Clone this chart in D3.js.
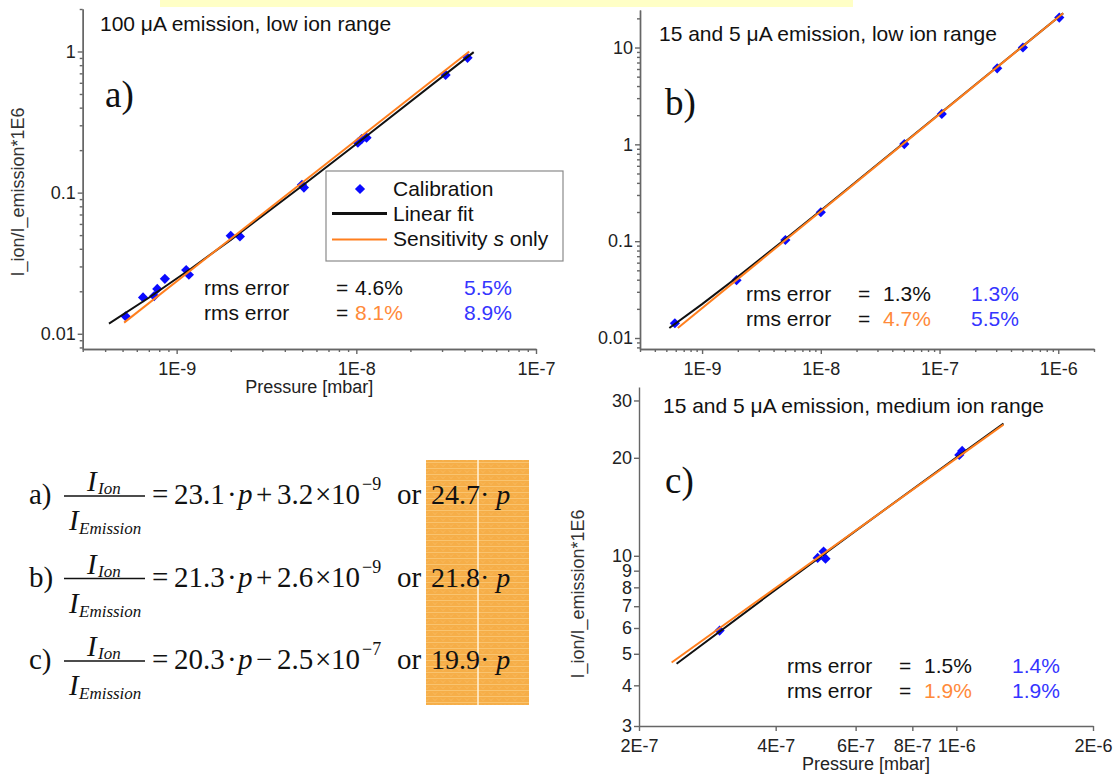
<!DOCTYPE html>
<html>
<head>
<meta charset="utf-8">
<script src="https://cdn.jsdelivr.net/npm/d3@7"></script>
<style>
  body { margin: 0; background: #fff; }
  svg { font-family: "Liberation Sans", Arial, sans-serif; }
  .axis path, .axis line { stroke: #666; stroke-width: 1.4; }
  .axis text { font-size: 18px; fill: #222; font-family: "Liberation Sans", Arial, sans-serif; }
  .serif { font-family: "Liberation Serif", "Times New Roman", serif; }
</style>
</head>
<body>
<svg id="chart" width="1120" height="781"></svg>
<script>
// ---- panel a) 100 uA emission, low ion range
const pressureA = [5.2e-10, 6.5e-10, 7.5e-10, 7.8e-10, 8.6e-10, 1.13e-9, 1.17e-9, 2.0e-9, 2.25e-9, 4.98e-9, 5.11e-9, 1.02e-8, 1.07e-8, 1.14e-8, 3.14e-8, 4.16e-8];
const ratioA    = [0.0133, 0.0181, 0.0185, 0.0208, 0.0245, 0.0283, 0.0262, 0.0494, 0.0489, 0.1135, 0.1086, 0.226, 0.239, 0.245, 0.682, 0.902];
const fitA_p  = [4.2e-10, 7e-10, 1.2e-9, 2e-9, 5e-9, 1e-8, 4.5e-8];
const fitA_v  = [0.0118, 0.0180, 0.0289, 0.0463, 0.112, 0.221, 0.99];
const sensA_p = [5.1e-10, 4.25e-8];
const sensA_v = [0.0120, 1.0];

// ---- panel b) 15 and 5 uA emission, low ion range
const pressureB = [5.9e-10, 1.95e-9, 5.03e-9, 1.0e-8, 5.05e-8, 1.045e-7, 3.06e-7, 5.04e-7, 1.02e-6];
const ratioB    = [0.0142, 0.0396, 0.1028, 0.199, 1.007, 2.06, 6.1, 10.0, 20.4];
const fitB_p  = [5.3e-10, 1e-9, 2e-9, 5e-9, 1e-8, 1.1e-6];
const fitB_v  = [0.0127, 0.0224, 0.0429, 0.1045, 0.207, 22.6];
const sensB_p = [6.25e-10, 1.1e-6];
const sensB_v = [0.0127, 22.6];

// ---- panel c) 15 and 5 uA emission, medium ion range
const pressureC = [3.01e-7, 4.95e-7, 5.1e-7, 5.15e-7, 1.015e-6, 1.03e-6];
const ratioC    = [5.89, 9.85, 10.3, 9.8, 20.4, 21.0];
const fitC_p  = [2.42e-7, 4e-7, 6e-7, 1e-6, 1.27e-6];
const fitC_v  = [4.66, 7.87, 11.93, 20.05, 25.5];
const sensC_p = [2.36e-7, 1.27e-6];
const sensC_v = [4.70, 25.3];

// tick labels
const ticksA_x = [1e-9, 1e-8, 1e-7],        labelsA_x = ['1E-9', '1E-8', '1E-7'];
const ticksA_y = [0.01, 0.1, 1],            labelsA_y = ['0.01', '0.1', '1'];
const ticksB_x = [1e-9, 1e-8, 1e-7, 1e-6],  labelsB_x = ['1E-9', '1E-8', '1E-7', '1E-6'];
const ticksB_y = [0.01, 0.1, 1, 10],        labelsB_y = ['0.01', '0.1', '1', '10'];
const ticksC_x = [2e-7, 4e-7, 6e-7, 8e-7, 1e-6, 2e-6], labelsC_x = ['2E-7', '4E-7', '6E-7', '8E-7', '1E-6', '2E-6'];
const ticksC_y = [3, 4, 5, 6, 7, 8, 9, 10, 20, 30],  labelsC_y = ['3', '4', '5', '6', '7', '8', '9', '10', '20', '30'];

// rms errors: linear fit / sensitivity only, black-orange vs blue column
const rmsLin     = ['4.6%', '1.3%', '1.5%'];
const rmsLinB    = ['5.5%', '1.3%', '1.4%'];
const rmsSens    = ['8.1%', '4.7%', '1.9%'];
const rmsSensB   = ['8.9%', '5.5%', '1.9%'];

// equations
const eqLabels = ['a)', 'b)', 'c)'];
const eqSlope  = ['23.1', '21.3', '20.3'];
const eqSign   = ['+', '+', '\u2212'];
const eqOffset = ['3.2', '2.6', '2.5'];
const eqExp    = ['\u22129', '\u22129', '\u22127'];
const eqSens   = ['24.7', '21.8', '19.9'];

const BLUE = '#0a0aff', BLUE_TXT = '#3535ff', ORANGE = '#ff7f1e', ORANGE_TXT = '#ff8a3a';

const svg = d3.select('#chart');

// texture for the highlighted box
const defs = svg.append('defs');
const pat = defs.append('pattern').attr('id', 'tex').attr('width', 8).attr('height', 6)
  .attr('patternUnits', 'userSpaceOnUse');
pat.append('rect').attr('width', 8).attr('height', 6).attr('fill', '#f6ae48');
pat.append('path').attr('d', 'M0 0.5H8').attr('stroke', '#f9c470').attr('stroke-width', 1);
pat.append('path').attr('d', 'M1 2.5l2 2l2 -2').attr('stroke', '#f8bd62').attr('fill', 'none').attr('stroke-width', 0.8);

// yellow banner cut off at the top
svg.append('rect').attr('x', 160).attr('y', 0).attr('width', 693).attr('height', 7).attr('fill', '#ffffc6');

function txt(x, y, s, opt = {}) {
  return svg.append('text').attr('x', x).attr('y', y)
    .attr('font-size', opt.size || 20)
    .attr('fill', opt.fill || '#111')
    .attr('font-style', opt.italic ? 'italic' : null)
    .attr('class', opt.serif ? 'serif' : null)
    .attr('text-anchor', opt.anchor || 'start')
    .text(s);
}

function minorTicks(domain) {
  let out = [];
  const lo = Math.floor(Math.log10(domain[0])), hi = Math.ceil(Math.log10(domain[1]));
  for (let e = lo; e <= hi; e++) {
    for (let m = 2; m <= 9; m++) {
      const v = m * Math.pow(10, e);
      if (v >= domain[0] * 0.999 && v <= domain[1] * 1.001) out.push(v);
    }
  }
  return out;
}

class LogPanel {
  constructor(_config, _data) {
    this.config = _config;
    this.data = _data;
    this.initVis();
  }

  initVis() {
    let vis = this, c = vis.config;
    vis.x = d3.scaleLog().domain(c.xDomain).range([c.left, c.right]);
    vis.y = d3.scaleLog().domain(c.yDomain).range([c.bottom, c.top]);

    vis.g = svg.append('g');

    if (c.minor) {
      vis.g.append('g').attr('class', 'axis').attr('transform', `translate(0,${c.bottom})`)
        .call(d3.axisBottom(vis.x).tickValues(minorTicks(c.xDomain)).tickSize(3).tickSizeOuter(0).tickFormat(''));
      vis.g.append('g').attr('class', 'axis').attr('transform', `translate(${c.left},0)`)
        .call(d3.axisLeft(vis.y).tickValues(minorTicks(c.yDomain)).tickSize(3).tickSizeOuter(0).tickFormat(''));
    }
    vis.g.append('g').attr('class', 'axis').attr('transform', `translate(0,${c.bottom})`)
      .call(d3.axisBottom(vis.x).tickValues(c.xTicks).tickSize(5).tickSizeOuter(0).tickPadding(8)
        .tickFormat((d, i) => c.xLabels[i]));
    vis.g.append('g').attr('class', 'axis').attr('transform', `translate(${c.left},0)`)
      .call(d3.axisLeft(vis.y).tickValues(c.yTicks).tickSize(5).tickSizeOuter(0).tickPadding(2)
        .tickFormat((d, i) => c.yLabels[i]));

    if (c.xTitle) txt((c.left + c.right) / 2, c.bottom + 44, c.xTitle, {size: 18, anchor: 'middle', fill: '#222'});
    if (c.yTitle) {
      vis.g.append('text').attr('transform', `translate(${c.yTitleX},${c.yTitleY}) rotate(-90)`)
        .attr('text-anchor', 'middle').attr('font-size', 18).attr('fill', '#333').text(c.yTitle);
    }
    vis.updateVis();
  }

  updateVis() {
    let vis = this, d = vis.data;
    const line = d3.line().x(p => vis.x(p[0])).y(p => vis.y(p[1]));
    const pts = d.pressure.map((p, i) => [p, d.ratio[i]]);

    vis.g.selectAll('.pt').data(pts).join('path').attr('class', 'pt')
      .attr('d', d3.symbol(d3.symbolSquare, 52))
      .attr('transform', p => `translate(${vis.x(p[0])},${vis.y(p[1])}) rotate(45)`)
      .attr('fill', BLUE);

    vis.g.append('path').datum(d.fitP.map((p, i) => [p, d.fitV[i]]))
      .attr('d', line).attr('fill', 'none').attr('stroke', '#111').attr('stroke-width', 2);
    vis.g.append('path').datum(d.sensP.map((p, i) => [p, d.sensV[i]]))
      .attr('d', line).attr('fill', 'none').attr('stroke', ORANGE).attr('stroke-width', 2);
  }
}

new LogPanel({
  left: 82.7, right: 536, top: 9, bottom: 349,
  xDomain: [3e-10, 1e-7], yDomain: [0.0078, 2.0], minor: true,
  xTicks: ticksA_x, xLabels: labelsA_x, yTicks: ticksA_y, yLabels: labelsA_y,
  xTitle: 'Pressure [mbar]', yTitle: 'I_ion/I_emission*1E6', yTitleX: 24, yTitleY: 192
}, {pressure: pressureA, ratio: ratioA, fitP: fitA_p, fitV: fitA_v, sensP: sensA_p, sensV: sensA_v});

new LogPanel({
  left: 640, right: 1094, top: 10, bottom: 349,
  xDomain: [3e-10, 2e-6], yDomain: [0.0077, 24.4], minor: true,
  xTicks: ticksB_x, xLabels: labelsB_x, yTicks: ticksB_y, yLabels: labelsB_y
}, {pressure: pressureB, ratio: ratioB, fitP: fitB_p, fitV: fitB_v, sensP: sensB_p, sensV: sensB_v});

new LogPanel({
  left: 639, right: 1093, top: 387, bottom: 726,
  xDomain: [2e-7, 2e-6], yDomain: [3, 33], minor: false,
  xTicks: ticksC_x, xLabels: labelsC_x, yTicks: ticksC_y, yLabels: labelsC_y,
  xTitle: 'Pressure [mbar]', yTitle: 'I_ion/I_emission*1E6', yTitleX: 584, yTitleY: 594
}, {pressure: pressureC, ratio: ratioC, fitP: fitC_p, fitV: fitC_v, sensP: sensC_p, sensV: sensC_v});

// panel titles and letters
txt(100, 31, '100 \u03bcA emission, low ion range', {size: 21});
txt(659, 41, '15 and 5 \u03bcA emission, low ion range', {size: 21});
txt(663, 413, '15 and 5 \u03bcA emission, medium ion range', {size: 21});
txt(105, 107, 'a)', {size: 37, serif: true});
txt(665, 115, 'b)', {size: 37, serif: true});
txt(665, 493, 'c)', {size: 37, serif: true});

// legend (panel a)
svg.append('rect').attr('x', 326).attr('y', 171).attr('width', 237).attr('height', 90)
  .attr('fill', '#fff').attr('stroke', '#8a8a8a').attr('stroke-width', 1.2);
svg.append('path').attr('d', d3.symbol(d3.symbolSquare, 52))
  .attr('transform', 'translate(360,189) rotate(45)').attr('fill', BLUE);
svg.append('line').attr('x1', 332).attr('x2', 387).attr('y1', 213.5).attr('y2', 213.5)
  .attr('stroke', '#111').attr('stroke-width', 3);
svg.append('line').attr('x1', 332).attr('x2', 387).attr('y1', 239.5).attr('y2', 239.5)
  .attr('stroke', ORANGE).attr('stroke-width', 2.2);
txt(393, 196, 'Calibration', {size: 21});
txt(393, 221, 'Linear fit', {size: 21});
const sens = txt(393, 246, 'Sensitivity ', {size: 21});
sens.append('tspan').attr('font-style', 'italic').text('s');
sens.append('tspan').text(' only');

// rms error blocks
const rmsPos = [
  {x: 204, eq: 336, val: 355, blue: 464, y: 295},
  {x: 746, eq: 858, val: 883, blue: 971, y: 301},
  {x: 787, eq: 899, val: 924, blue: 1012, y: 673}
];
rmsPos.forEach((p, i) => {
  txt(p.x, p.y, 'rms error', {size: 21});
  txt(p.eq, p.y, '=', {size: 21});
  txt(p.val, p.y, rmsLin[i], {size: 21});
  txt(p.blue, p.y, rmsLinB[i], {size: 21, fill: BLUE_TXT});
  txt(p.x, p.y + 25, 'rms error', {size: 21});
  txt(p.eq, p.y + 25, '=', {size: 21});
  txt(p.val, p.y + 25, rmsSens[i], {size: 21, fill: ORANGE_TXT});
  txt(p.blue, p.y + 25, rmsSensB[i], {size: 21, fill: BLUE_TXT});
});

// equations
svg.append('rect').attr('x', 426).attr('y', 460).attr('width', 103).attr('height', 245).attr('fill', 'url(#tex)');
svg.append('line').attr('x1', 478).attr('x2', 478).attr('y1', 460).attr('y2', 705)
  .attr('stroke', '#fff3dd').attr('stroke-width', 1.5);

eqLabels.forEach((lab, i) => {
  const yb = 504 + i * 82.5;
  const fs = 29;
  txt(29, yb, lab, {size: fs, serif: true});
  // fraction
  txt(87, yb - 13, 'I', {size: fs, serif: true, italic: true});
  txt(98, yb - 10, 'Ion', {size: 17, serif: true, italic: true});
  svg.append('line').attr('x1', 64).attr('x2', 145).attr('y1', yb - 8).attr('y2', yb - 8)
    .attr('stroke', '#111').attr('stroke-width', 1.3);
  txt(69, yb + 26, 'I', {size: fs, serif: true, italic: true});
  txt(79, yb + 30, 'Emission', {size: 17, serif: true, italic: true});
  // right-hand side
  txt(152, yb, '=', {size: fs, serif: true});
  txt(174, yb, eqSlope[i], {size: fs, serif: true});
  txt(227, yb, '\u00b7', {size: fs, serif: true});
  txt(238, yb, 'p', {size: fs, serif: true, italic: true});
  txt(256, yb, eqSign[i], {size: fs, serif: true});
  txt(277, yb, eqOffset[i], {size: fs, serif: true});
  txt(315, yb, '\u00d7', {size: fs, serif: true});
  txt(331, yb, '10', {size: fs, serif: true});
  txt(362, yb - 14, eqExp[i], {size: 18, serif: true});
  txt(397, yb, 'or', {size: fs, serif: true});
  // highlighted sensitivity-only term as one text
  const s = txt(431, yb, eqSens[i] + '\u00b7 ', {size: 28, serif: true});
  s.append('tspan').attr('font-style', 'italic').text('p');
});
</script>
</body>
</html>
